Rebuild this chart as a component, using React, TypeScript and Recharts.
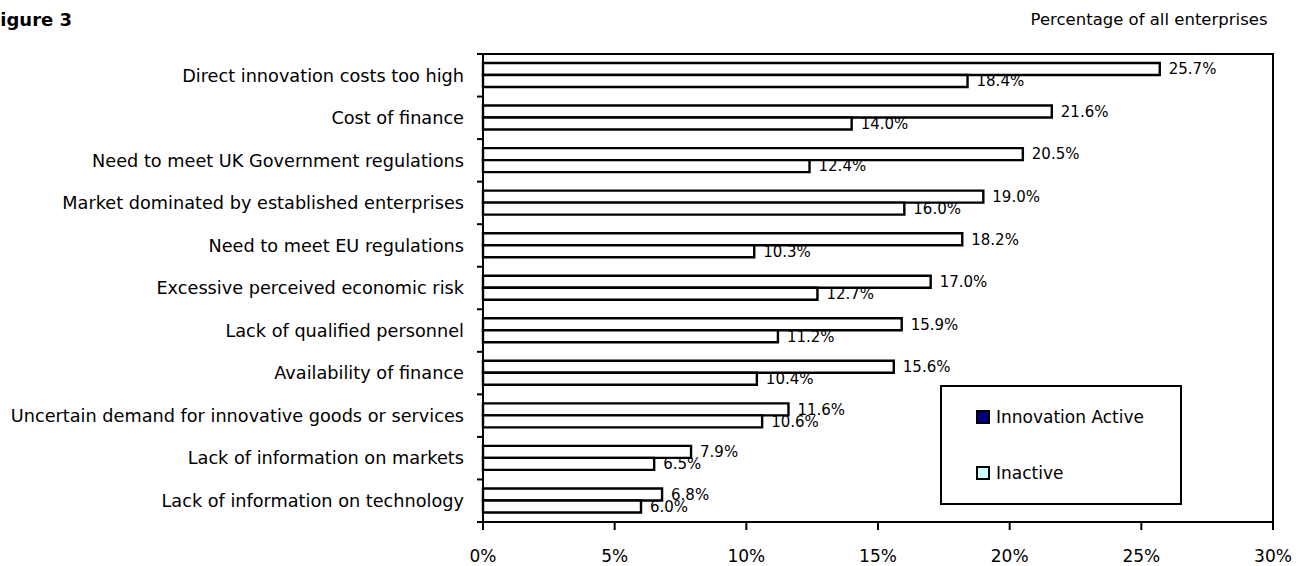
import React from 'react';
import {
  BarChart,
  Bar,
  XAxis,
  YAxis,
  LabelList,
  ReferenceArea
} from 'recharts';

const categories = [
  'Direct innovation costs too high',
  'Cost of finance',
  'Need to meet UK Government regulations',
  'Market dominated by established enterprises',
  'Need to meet EU regulations',
  'Excessive perceived economic risk',
  'Lack of qualified personnel',
  'Availability of finance',
  'Uncertain demand for innovative goods or services',
  'Lack of information on markets',
  'Lack of information on technology'
];
const activeValues = [25.7, 21.6, 20.5, 19.0, 18.2, 17.0, 15.9, 15.6, 11.6, 7.9, 6.8];
const inactiveValues = [18.4, 14.0, 12.4, 16.0, 10.3, 12.7, 11.2, 10.4, 10.6, 6.5, 6.0];
const xTicks = [0, 5, 10, 15, 20, 25, 30];
const seriesNames = ['Innovation Active', 'Inactive'];
const legendColors = ['#000080', '#CCFFFF'];

const W = 1305;
const H = 566;
const MARGIN = { top: 54, right: 32, bottom: 0, left: 0 };
const X_AXIS_H = 44;
const Y_AXIS_W = 483;
const BAND = (H - MARGIN.top - MARGIN.bottom - X_AXIS_H) / categories.length;
const FONT = '"DejaVu Sans", sans-serif';

const data = categories.map((name, i) => ({
  name,
  active: activeValues[i],
  inactive: inactiveValues[i]
}));

const fmt = (v: number) => v.toFixed(1) + '%';

// category label + tick marks sitting between the categories
const CategoryTick = (props: any) => {
  const { x, y, payload, index } = props;
  const half = BAND / 2;
  return (
    <g>
      <text x={x} y={y} dy="0.355em" textAnchor="end" fontSize={17.7} fill="#000" fontFamily={FONT}>
        {payload.value}
      </text>
      <line x1={x + 13} x2={x + 19} y1={y - half} y2={y - half} stroke="#000" strokeWidth={2} />
      {index === categories.length - 1 && (
        <line x1={x + 13} x2={x + 19} y1={y + half} y2={y + half} stroke="#000" strokeWidth={2} />
      )}
    </g>
  );
};

export default function App() {
  return (
    <div
      style={{
        position: 'absolute',
        left: 0,
        top: 0,
        width: W,
        height: H,
        overflow: 'hidden',
        background: '#fff',
        fontFamily: FONT
      }}
    >
      <BarChart
        width={W}
        height={H}
        data={data}
        layout="vertical"
        margin={MARGIN}
        barSize={12}
        barGap={0}
      >
        <XAxis
          type="number"
          domain={[0, 30]}
          ticks={xTicks}
          tickFormatter={(v) => v + '%'}
          height={X_AXIS_H}
          tickSize={8}
          tickMargin={20}
          axisLine={{ stroke: '#000', strokeWidth: 2 }}
          tickLine={{ stroke: '#000', strokeWidth: 2 }}
          tick={{ fill: '#000', fontSize: 17, fontFamily: FONT }}
        />
        <YAxis
          type="category"
          dataKey="name"
          width={Y_AXIS_W}
          tickSize={6}
          tickMargin={13}
          tickLine={false}
          axisLine={{ stroke: '#000', strokeWidth: 2 }}
          tick={<CategoryTick />}
          interval={0}
        />
        <ReferenceArea x1={0} x2={30} fill="none" stroke="#000" strokeWidth={2} />
        <Bar dataKey="active" name={seriesNames[0]} fill="#fff" stroke="#000" strokeWidth={2.4} isAnimationActive={false}>
          <LabelList dataKey="active" position="right" offset={9} formatter={fmt} fill="#000" fontSize={15} fontFamily={FONT} />
        </Bar>
        <Bar dataKey="inactive" name={seriesNames[1]} fill="#fff" stroke="#000" strokeWidth={2.4} isAnimationActive={false}>
          <LabelList dataKey="inactive" position="right" offset={9} formatter={fmt} fill="#000" fontSize={15} fontFamily={FONT} />
        </Bar>
      </BarChart>

      <svg width={W} height={H} style={{ position: 'absolute', left: 0, top: 0, pointerEvents: 'none' }}>
        <text x={-12} y={26} fontSize={18} fontWeight="bold" fontFamily={FONT} fill="#000">
          Figure 3
        </text>
        <text x={1267.5} y={25} fontSize={16.5} textAnchor="end" fontFamily={FONT} fill="#000">
          Percentage of all enterprises
        </text>
      </svg>

      <div
        style={{
          position: 'absolute',
          left: 940,
          top: 385,
          width: 238,
          height: 116,
          border: '2px solid #000',
          background: '#fff'
        }}
      >
        {seriesNames.map((s, i) => (
          <div
            key={s}
            style={{
              position: 'absolute',
              left: 34,
              top: 19 + i * 56,
              height: 22,
              display: 'flex',
              alignItems: 'center',
              fontSize: 17,
              color: '#000',
              whiteSpace: 'nowrap'
            }}
          >
            <span
              style={{
                display: 'inline-block',
                width: 10,
                height: 10,
                border: '2px solid #000',
                background: legendColors[i],
                marginRight: 6
              }}
            />
            {s}
          </div>
        ))}
      </div>
    </div>
  );
}
